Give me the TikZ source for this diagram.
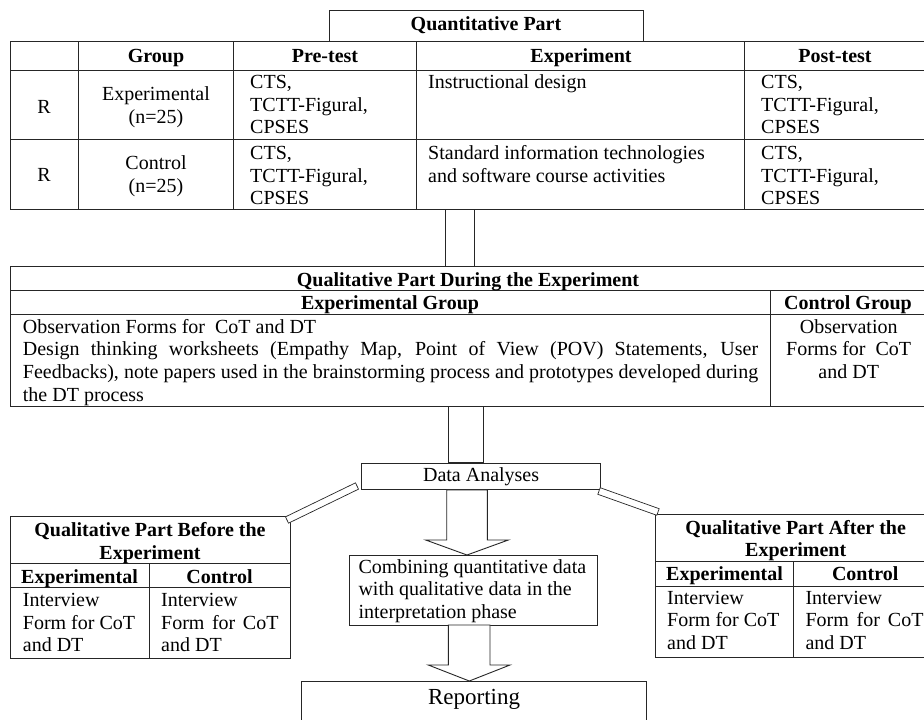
\documentclass[tikz,border=0pt]{standalone}
\usepackage{fontspec}
\setmainfont{Liberation Serif}
\usetikzlibrary{calc}
\begin{document}
\begin{tikzpicture}[x=1pt,y=-1pt,
  ln/.style={draw=black!85, line width=0.9pt},
  txt/.style={inner sep=0pt, font=\fontsize{20}{22.7}\selectfont},
  hd/.style={inner sep=0pt, font=\fontsize{20}{22.7}\selectfont\bfseries},
  bigtxt/.style={inner sep=0pt, font=\fontsize{23}{27}\selectfont},
  blockarrow/.style={ln, fill=white},
  bar/.style={draw=black!85, line width=0.7pt, fill=white}]
\useasboundingbox (0,0) rectangle (924,720);
\clip (0,0) rectangle (924,720);
\fill[white] (0,0) rectangle (924,720);
% (multi-line nodes are placed at the baseline of their LAST line)

% ---------------- Quantitative part ----------------
\draw[ln] (329,10) rectangle (643,41);
\node[hd, anchor=base] (qtitle) at (486,30) {Quantitative Part};
\draw[ln] (10,41) rectangle (926,209);
\draw[ln] (10,70) -- (926,70);
\draw[ln] (10,139) -- (926,139);
\foreach \x in {78.3,233.3,416.7,744.7} \draw[ln] (\x,41) -- (\x,209);
\node[hd, anchor=base] (hgroup) at (156,62) {Group};
\node[hd, anchor=base] (hpre) at (325,62) {Pre-test};
\node[hd, anchor=base] (hexp) at (581,62) {Experiment};
\node[hd, anchor=base] (hpost) at (835,62) {Post-test};
% row 1
\node[txt, anchor=base] (r1) at (44,113) {R};
\node[txt, anchor=base, align=center] (g1) at (156,123.2) {Experimental\\(n=25)};
\node[txt, anchor=base west, align=left] (pre1) at (250,133.9) {CTS,\\TCTT-Figural,\\CPSES};
\node[txt, anchor=base west] (exp1) at (428,88.5) {Instructional design};
\node[txt, anchor=base west, align=left] (post1) at (761,133.9) {CTS,\\TCTT-Figural,\\CPSES};
% row 2
\node[txt, anchor=base] (r2) at (44,181.5) {R};
\node[txt, anchor=base, align=center] (g2) at (156,192.2) {Control\\(n=25)};
\node[txt, anchor=base west, align=left] (pre2) at (250,204.9) {CTS,\\TCTT-Figural,\\CPSES};
\node[txt, anchor=base west, align=left] (exp2) at (428,182.2) {Standard information technologies\\and software course activities};
\node[txt, anchor=base west, align=left] (post2) at (761,204.9) {CTS,\\TCTT-Figural,\\CPSES};

% ---------------- Qualitative during ----------------
\draw[ln] (10,266.7) rectangle (926,406.7);
\draw[ln] (10,290.7) -- (926,290.7);
\draw[ln] (10,314) -- (926,314);
\draw[ln] (770.3,290.7) -- (770.3,406.7);
\node[hd, anchor=base] (dtitle) at (468,286.5) {Qualitative Part During the Experiment};
\node[hd, anchor=base] (dexp) at (390,309.5) {Experimental Group};
\node[hd, anchor=base] (dcon) at (848,309.5) {Control Group};
\node[txt, anchor=base west, align=left] (dbody) at (22.7,401.1) {Observation Forms for\ \ CoT and DT\\
\makebox[735.3pt][s]{Design thinking worksheets (Empathy Map, Point of View (POV) Statements, User}\\
\makebox[735.3pt][s]{Feedbacks), note papers used in the brainstorming process and prototypes developed during}\\
the DT process};
\node[txt, anchor=base, align=center] (cbody) at (848.7,378.4) {Observation\\Forms for\ \ CoT\\and DT};

% ---------------- connectors between parts ----------------
\coordinate (c1a) at (445.5,209);
\coordinate (c1b) at (474.5,266.7);
\draw[blockarrow] (c1a) rectangle (c1b);
\coordinate (c2a) at (448.3,406.7);
\coordinate (c2b) at (483.3,462.7);
\draw[blockarrow] (c2a) rectangle (c2b);

% ---------------- Data analyses ----------------
\node[txt, draw=black!85, line width=0.9pt, anchor=north west, minimum width=239.3pt,
  text height=18.8pt, text depth=7.5pt] (data) at (361,462.7) {Data Analyses};

% ---------------- Combining ----------------
\draw[ln] (349,555) rectangle (597,625);
\node[txt, anchor=base west, align=left] (comb) at (358.3,618.4) {Combining quantitative data\\with qualitative data in the\\interpretation phase};

% ---------------- Reporting ----------------
\node[bigtxt, draw=black!85, line width=0.9pt, anchor=north west, minimum width=345.3pt,
  text height=23pt, text depth=40pt] (rep) at (301,681) {Reporting};

% ---------------- Before ----------------
\draw[ln] (10,516.7) rectangle (290,658.3);
\draw[ln] (10,563.3) -- (290,563.3);
\draw[ln] (10,587.7) -- (290,587.7);
\draw[ln] (149,563.3) -- (149,658.3);
\node[hd, anchor=base, align=center] (btitle) at (150,559.2) {Qualitative Part Before the\\Experiment};
\node[hd, anchor=base] (bexp) at (79.5,583) {Experimental};
\node[hd, anchor=base] (bcon) at (219.5,583) {Control};
\node[txt, anchor=base west, align=left] (bbody1) at (22.7,651.9) {Interview\\Form for CoT\\and DT};
\node[txt, anchor=base west, align=left] (bbody2) at (161,651.9) {Interview\\\makebox[117.3pt][s]{Form for CoT}\\and DT};

% ---------------- After ----------------
\draw[ln] (655.3,514) rectangle (936,657.3);
\draw[ln] (655.3,561) -- (936,561);
\draw[ln] (655.3,586) -- (936,586);
\draw[ln] (793.7,561) -- (793.7,657.3);
\node[hd, anchor=base, align=center] (atitle) at (795.7,556.7) {Qualitative Part After the\\Experiment};
\node[hd, anchor=base] (aexp) at (724.5,580.5) {Experimental};
\node[hd, anchor=base] (acon) at (865.2,580.5) {Control};
\node[txt, anchor=base west, align=left] (abody1) at (667,649.4) {Interview\\Form for CoT\\and DT};
\node[txt, anchor=base west, align=left] (abody2) at (805.3,649.4) {Interview\\\makebox[118pt][s]{Form for CoT}\\and DT};

% ---------------- block arrows ----------------
\draw[blockarrow] (data.south -| 446.7,0) -- (446.7,540) -- (425.7,540) -- (467,555)
  -- (508.3,540) -- (487.3,540) -- (data.south -| 487.3,0) -- cycle;
\draw[blockarrow] (448.3,625) -- (448.3,665) -- (428.3,665) -- (469.3,681)
  -- (510,665) -- (490,665) -- (490,625) -- cycle;

% ---------------- bars to side boxes ----------------
\coordinate (la) at (357,486);
\coordinate (lb) at (287,520);
\draw[bar] ($(la)!3.5pt!90:(lb)$) -- ($(lb)!3.5pt!-90:(la)$) -- ($(lb)!3.5pt!90:(la)$) -- ($(la)!3.5pt!-90:(lb)$) -- cycle;
\coordinate (ra) at (599,491);
\coordinate (rb) at (658,512);
\draw[bar] ($(ra)!3.5pt!90:(rb)$) -- ($(rb)!3.5pt!-90:(ra)$) -- ($(rb)!3.5pt!90:(ra)$) -- ($(ra)!3.5pt!-90:(rb)$) -- cycle;
\end{tikzpicture}
\end{document}
